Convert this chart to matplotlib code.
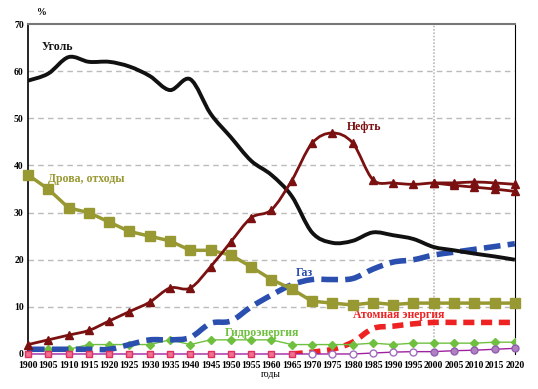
import matplotlib.pyplot as plt
from matplotlib.path import Path
from matplotlib.patches import PathPatch

years = list(range(1900, 2021, 5))

coal = [58, 59.5, 63, 62, 62, 61, 59, 56, 58.3, 51, 46, 41, 38, 33.5, 25.8, 23.6,
        24, 25.8, 25.2, 24.4, 22.7, 22, 21.3, 20.7, 20]
oil = [2, 3, 4, 5, 7, 9, 11, 14, 14, 18.5, 23.8, 28.9, 30.6, 36.8, 44.7, 46.9,
       44.8, 37, 36.3, 36, 36.3, 36.3, 36.5, 36.3, 36]
oil_low_years = [2000, 2005, 2010, 2015, 2020]
oil_low = [36.3, 35.8, 35.4, 35, 34.5]
wood = [38, 35, 31, 30, 28, 26, 25, 24, 22, 22, 21, 18.5, 15.8, 13.8, 11.2, 10.8,
        10.4, 10.9, 10.5, 10.8, 10.8, 10.8, 10.8, 10.8, 10.8]
gas = [1, 1, 1, 1, 1, 2, 3, 3, 3.5, 6.5, 7, 10, 12.5, 14.7, 15.8, 15.8,
       16, 18, 19.5, 20, 21, 21.6, 22.2, 22.8, 23.4]
hydro = [1, 1, 1, 2, 2, 2, 2, 3, 2, 3, 3, 3, 3, 2, 2, 2,
         2, 2.3, 2, 2.3, 2.3, 2.3, 2.3, 2.5, 2.5]
nuclear_years = [1965, 1970, 1975, 1980, 1985, 1990, 1995, 2000, 2005, 2010, 2015, 2020]
nuclear = [0, 0.4, 1, 2.5, 5.4, 5.9, 6.4, 6.7, 6.7, 6.7, 6.7, 6.7]
nuclear_zero_years = list(range(1900, 1966, 5))
other = [0] * 14 + [0, 0, 0, 0.2, 0.4, 0.5, 0.5, 0.7, 0.8, 1.0, 1.2]


# smoothed line like excel: catmull-rom turned into bezier segments
def smooth(ax, xs, ys, **kw):
    pts = list(zip(xs, ys))
    verts = [pts[0]]
    codes = [Path.MOVETO]
    n = len(pts)
    for i in range(n - 1):
        p0 = pts[max(i - 1, 0)]
        p1 = pts[i]
        p2 = pts[i + 1]
        p3 = pts[min(i + 2, n - 1)]
        c1 = (p1[0] + (p2[0] - p0[0]) / 6, p1[1] + (p2[1] - p0[1]) / 6)
        c2 = (p2[0] - (p3[0] - p1[0]) / 6, p2[1] - (p3[1] - p1[1]) / 6)
        verts += [c1, c2, p2]
        codes += [Path.CURVE4] * 3
    ax.add_patch(PathPatch(Path(verts, codes), fill=False, capstyle='butt', **kw))


fig = plt.figure(figsize=(5.38, 3.89), dpi=100)
ax = fig.add_axes([0.052, 0.09, 0.905, 0.848])
serif = 'Liberation Serif'

for v in range(10, 70, 10):
    ax.axhline(v, color='#bbbbbb', lw=1, ls=(0, (4, 3)), zorder=0)
ax.axvline(2000, color='#bbbbbb', lw=1.2, ls=(0, (1, 1)), zorder=0)

smooth(ax, nuclear_years, nuclear, edgecolor='#ee2222', lw=4, ls=(0, (2, 1.2)), zorder=3)
ax.plot(years, hydro, color='#70c040', lw=1, marker='D', ms=4.5, mfc='#70c040', mec='#70c040', zorder=4)
smooth(ax, years, gas, edgecolor='#2a4fae', lw=4, ls=(0, (3, 1.3)), zorder=4)
ax.plot(years, other, color='#a020a0', lw=1, zorder=4.5, clip_on=False)
ax.plot(years[14:20], other[14:20], 'o', ls='none', mfc='white', mec='#a070c0', ms=5, mew=1,
        zorder=4.6, clip_on=False)
ax.plot(years[20:], other[20:], 'o', ls='none', mfc='#b080c0', mec='#9060b0', ms=5,
        zorder=4.6, clip_on=False)
ax.plot(nuclear_zero_years, [0] * len(nuclear_zero_years), 's', ls='none',
        mfc='#f07090', mec='#e03060', ms=5, zorder=4.7, clip_on=False)
ax.plot(years, wood, color='#999933', lw=2.5, marker='s', ms=6.5, zorder=5, clip_on=False)
smooth(ax, years, coal, edgecolor='#111111', lw=2.8, zorder=5)
smooth(ax, oil_low_years, oil_low, edgecolor='#7a1010', lw=2, zorder=6)
ax.plot(oil_low_years, oil_low, '^', ls='none', color='#7a1010', ms=5.5, zorder=6, clip_on=False)
smooth(ax, years, oil, edgecolor='#7a1010', lw=2, zorder=6)
ax.plot(years, oil, '^', ls='none', color='#7a1010', ms=5.5, zorder=6, clip_on=False)

ax.set_xlim(1900, 2020)
ax.set_ylim(0, 70)
ax.set_xticks(years)
ax.set_yticks(range(0, 71, 10))
ax.tick_params(length=0)
ax.tick_params(axis='x', pad=5)
ax.tick_params(axis='y', pad=3)
for lbl in ax.get_xticklabels() + ax.get_yticklabels():
    lbl.set_fontfamily(serif)
    lbl.set_fontweight('bold')
    lbl.set_fontsize(7)
ax.spines['top'].set_color('#777777')
ax.spines['top'].set_linewidth(1.5)
ax.spines['right'].set_color('black')
ax.spines['left'].set_color('black')
ax.spines['left'].set_linewidth(1.2)
ax.spines['bottom'].set_visible(False)

txt = dict(fontfamily=serif, fontweight='bold', fontsize=8.5)
ax.text(1903.5, 64.5, 'Уголь', color='#111111', **txt)
ax.text(1905, 36.5, 'Дрова, отходы', color='#999933', **txt)
ax.text(1978.5, 47.5, 'Нефть', color='#7a1010', **txt)
ax.text(1966, 16.5, 'Газ', color='#2a4fae', **txt)
ax.text(1948.5, 3.8, 'Гидроэнергия', color='#70c040', **txt)
ax.text(1980, 7.6, 'Атомная энергия', color='#ee2222', **txt)
fig.text(0.068, 0.962, '%', fontfamily=serif, fontweight='bold', fontsize=7)
fig.text(0.503, 0.03, 'годы', fontfamily=serif, fontsize=7, ha='center')

fig.savefig('out.png', dpi=100)
